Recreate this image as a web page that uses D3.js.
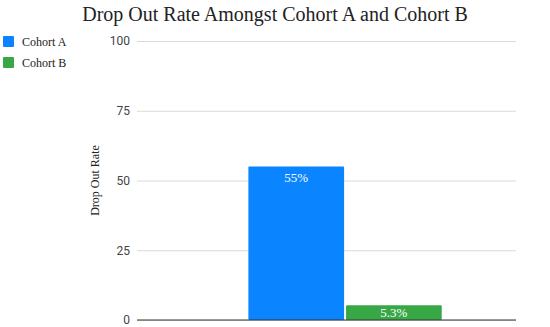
<!DOCTYPE html>
<html>
<head>
<meta charset="utf-8">
<script src="https://cdn.jsdelivr.net/npm/d3@7"></script>
<style>
  body { margin: 0; background: #fff; }
  svg { display: block; }
</style>
</head>
<body>
<svg id="chart"></svg>
<script>
let width = 550;
let height = 327;

// data
let categories = [""];
let seriesNames = ["Cohort A", "Cohort B"];
let seriesValues = [55, 5.3];
let valueLabels = ["55%", "5.3%"];
let yTicks = [0, 25, 50, 75, 100];
let colors = ["#0a84ff", "#38a846"];

let serif = "'Liberation Serif', 'Times New Roman', serif";

let svg = d3.select("#chart")
    .attr("width", width)
    .attr("height", height)

let margin = { top: 41, right: 34, bottom: 7, left: 137 }

let x = d3.scaleBand()
    .domain(categories)
    .range([margin.left, width - margin.right])
    .paddingOuter(0.48)
    .align(0.6)

let xInner = d3.scaleBand()
    .domain(seriesNames)
    .range([0, x.bandwidth()])
    .paddingInner(0.02)

let y = d3.scaleLinear()
    .domain([0, 100])
    .range([height - margin.bottom, margin.top])

// title
svg.append("text")
    .attr("x", width / 2)
    .attr("y", 21)
    .attr("text-anchor", "middle")
    .style("font-family", serif)
    .attr("font-size", 20)
    .attr("fill", "#222")
    .text("Drop Out Rate Amongst Cohort A and Cohort B")

// gridlines + tick labels
let yAxis = d3.axisLeft(y)
    .tickValues(yTicks)
    .tickSize(-(width - margin.right - margin.left))
    .tickPadding(7)

let gAxis = svg.append("g")
    .attr("transform", `translate(${margin.left},0)`)
    .call(yAxis)

gAxis.select(".domain").remove()
gAxis.selectAll(".tick line")
    .attr("stroke", "#d9d9d9")
gAxis.selectAll(".tick text")
    .attr("font-family", "Roboto, sans-serif")
    .attr("font-size", 12)
    .attr("fill", "#444")

// axis title
svg.append("text")
    .attr("transform", `translate(99, ${(y(0) + y(100)) / 2}) rotate(-90)`)
    .attr("text-anchor", "middle")
    .style("font-family", serif)
    .attr("font-size", 12)
    .attr("fill", "#222")
    .text("Drop Out Rate")

// bars
let data = seriesNames.map((s, i) => ({ name: s, value: seriesValues[i], label: valueLabels[i], color: colors[i] }))

let barG = svg.append("g")
    .attr("transform", `translate(${x(categories[0])},0)`)

barG.selectAll("rect")
    .data(data)
    .enter()
    .append("rect")
    .attr("x", d => xInner(d.name))
    .attr("y", d => y(d.value))
    .attr("width", xInner.bandwidth())
    .attr("height", d => y(0) - y(d.value))
    .attr("rx", 1)
    .attr("fill", d => d.color)

barG.selectAll(".lbl")
    .data(data)
    .enter()
    .append("text")
    .classed("lbl", true)
    .attr("x", d => xInner(d.name) + xInner.bandwidth() / 2)
    .attr("y", d => Math.min(y(d.value) + 15, y(0) - 3))
    .attr("text-anchor", "middle")
    .style("font-family", serif)
    .attr("font-size", 13)
    .attr("fill", "#fff")
    .text(d => d.label)

// zero line
svg.append("line")
    .attr("x1", margin.left)
    .attr("x2", width - margin.right)
    .attr("y1", y(0))
    .attr("y2", y(0))
    .attr("stroke", "#333")
    .attr("stroke-width", 1)

// legend
let legend = svg.append("g")
    .selectAll("g")
    .data(data)
    .enter()
    .append("g")
    .attr("transform", (d, i) => `translate(3, ${36 + i * 21})`)

legend.append("rect")
    .attr("width", 11)
    .attr("height", 11)
    .attr("rx", 1)
    .attr("fill", d => d.color)

legend.append("text")
    .attr("x", 19)
    .attr("y", 10)
    .style("font-family", serif)
    .attr("font-size", 12)
    .attr("fill", "#222")
    .text(d => d.name)
</script>
</body>
</html>
